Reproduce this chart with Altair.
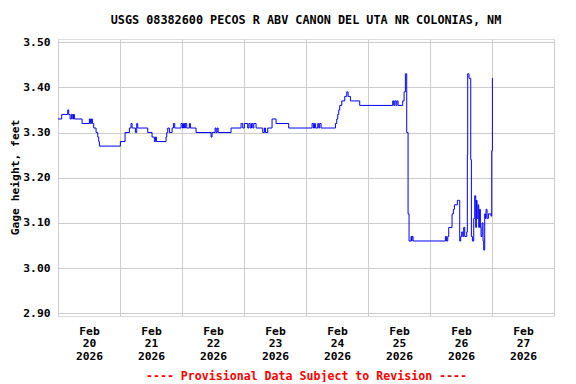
import altair as alt
import pandas as pd

# hours since 2026-02-20 00:00 (local) and gage height, feet (step series)
hours = [
    0.00, 1.44, 3.77, 4.15, 4.67, 5.19, 5.70, 6.00, 6.35, 9.32,
    12.15, 12.54, 12.93, 13.31, 13.83, 14.73, 15.38, 15.77, 16.02, 24.15,
    25.96, 27.64, 28.28, 28.67, 29.96, 30.48, 30.86, 34.73, 36.41, 37.31,
    37.70, 38.09, 41.83, 42.09, 42.48, 43.12, 44.16, 44.67, 45.19, 47.64,
    48.20, 48.60, 49.00, 49.30, 49.83, 50.86, 51.25, 53.44, 59.25, 59.64,
    60.80, 61.20, 61.60, 62.00, 66.99, 70.86, 71.51, 72.15, 73.44, 73.90,
    74.40, 74.90, 75.40, 75.80, 76.67, 79.25, 79.89, 80.30, 81.18, 82.86,
    84.41, 89.31, 98.35, 98.87, 99.26, 99.64, 100.55, 100.93, 101.30, 101.84,
    107.39, 107.90, 108.29, 108.68, 109.06, 109.84, 111.00, 111.77, 112.29, 113.19,
    116.80, 117.32, 129.57, 129.96, 130.35, 130.86, 131.20, 131.64, 133.44, 133.96,
    134.47, 134.99, 135.51, 135.89, 136.67, 136.90, 137.05, 137.44, 149.96, 150.35,
    150.86, 151.25, 152.54, 153.05, 153.44, 154.08, 154.60, 155.51, 155.89, 156.28,
    156.67, 157.05, 157.44, 158.22, 158.45, 158.60, 159.10, 159.60, 159.77, 160.02,
    160.41, 160.93, 161.31, 161.70, 161.96, 162.22, 162.60, 162.86, 163.12, 163.50,
    163.76, 164.15, 164.54, 164.80, 165.18, 165.44, 165.70, 166.09, 166.60, 167.63,
    167.89, 168.15, 168.40,
]
gage = [
    3.33, 3.34, 3.35, 3.34, 3.33, 3.34, 3.33, 3.34, 3.33, 3.32,
    3.33, 3.32, 3.33, 3.32, 3.31, 3.30, 3.29, 3.28, 3.27, 3.28,
    3.30, 3.31, 3.32, 3.31, 3.30, 3.32, 3.31, 3.30, 3.29, 3.28,
    3.29, 3.28, 3.29, 3.30, 3.31, 3.30, 3.31, 3.32, 3.31, 3.32,
    3.31, 3.32, 3.31, 3.32, 3.31, 3.32, 3.31, 3.30, 3.29, 3.30,
    3.31, 3.30, 3.31, 3.30, 3.31, 3.32, 3.31, 3.32, 3.31, 3.32,
    3.31, 3.32, 3.31, 3.32, 3.31, 3.30, 3.31, 3.30, 3.31, 3.33,
    3.32, 3.31, 3.32, 3.31, 3.32, 3.31, 3.32, 3.31, 3.32, 3.31,
    3.32, 3.33, 3.34, 3.35, 3.36, 3.37, 3.38, 3.39, 3.38, 3.37,
    3.36, 3.36, 3.37, 3.36, 3.37, 3.36, 3.37, 3.36, 3.37, 3.39,
    3.43, 3.30, 3.12, 3.06, 3.07, 3.06, 3.07, 3.06, 3.07, 3.06,
    3.07, 3.09, 3.12, 3.13, 3.14, 3.14, 3.15, 3.06, 3.07, 3.08,
    3.07, 3.09, 3.07, 3.08, 3.25, 3.43, 3.42, 3.42, 3.24, 3.07,
    3.06, 3.11, 3.16, 3.09, 3.15, 3.11, 3.14, 3.09, 3.13, 3.09,
    3.07, 3.10, 3.06, 3.04, 3.12, 3.11, 3.13, 3.11, 3.12, 3.115,
    3.26, 3.42, 3.42,
]

title_text = "USGS 08382600 PECOS R ABV CANON DEL UTA NR COLONIAS, NM"
y_title = "Gage height, feet"
footer = "---- Provisional Data Subject to Revision ----"
y_ticks = [2.90, 3.00, 3.10, 3.20, 3.30, 3.40, 3.50]

base = pd.Timestamp("2026-02-20 00:00")
df = pd.DataFrame({
    "time": [(base + pd.Timedelta(hours=h)).strftime("%Y-%m-%dT%H:%M:%S") for h in hours],
    "gage": gage,
})

x_values = []
for d in range(20, 28):
    x_values.append(alt.DateTime(year=2026, month=2, date=d, hours=0))
    x_values.append(alt.DateTime(year=2026, month=2, date=d, hours=12))
x_values.append(alt.DateTime(year=2026, month=2, date=28, hours=0))

FONT = "DejaVu Sans Mono"

chart = alt.Chart(df).mark_line(
    color="#0000ff", strokeWidth=1, interpolate="step-after", clip=True
).encode(
    x=alt.X(
        "time:T",
        scale=alt.Scale(
            domain=[
                alt.DateTime(year=2026, month=2, date=20, hours=0),
                alt.DateTime(year=2026, month=2, date=28, hours=0),
            ]
        ),
        axis=alt.Axis(
            values=x_values,
            title=footer,
            titleColor="#ff0000",
            titleFont=FONT,
            titleFontSize=11.6,
            titleFontWeight="bold",
            titlePadding=9,
            labelExpr="hours(datum.value) == 12 ? [timeFormat(datum.value, '%b'), timeFormat(datum.value, '%d'), timeFormat(datum.value, '%Y')] : ''",
            labelFont=FONT,
            labelFontSize=11.3,
            labelFontWeight="bold",
            labelColor="#000000",
            labelLineHeight=12.5,
            labelPadding=9,
            labelOverlap=False,
            labelBaseline="top",
            ticks=False,
            domain=False,
            grid=True,
            gridColor="#cccccc",
            gridOpacity={"condition": {"test": "hours(datum.value) == 0", "value": 1}, "value": 0},
        ),
    ),
    y=alt.Y(
        "gage:Q",
        scale=alt.Scale(domain=[2.894, 3.507], nice=False, zero=False),
        axis=alt.Axis(
            values=y_ticks,
            format=".2f",
            title=y_title,
            titleFont=FONT,
            titleFontSize=11.3,
            titleFontWeight="bold",
            titleColor="#000000",
            titleX=-43,
            titleY=138,
            titleBaseline="middle",
            labelFont=FONT,
            labelFontSize=11.3,
            labelFontWeight="bold",
            labelColor="#000000",
            labelPadding=8,
            ticks=False,
            domain=False,
            grid=True,
            gridColor="#cccccc",
        ),
    ),
).properties(
    width=496,
    height=277,
    title=alt.TitleParams(
        text=title_text,
        font=FONT,
        fontSize=11.8,
        fontWeight="bold",
        color="#000000",
        anchor="middle",
        frame="group",
        offset=9,
    ),
    padding={"left": 50, "top": 31, "right": 14, "bottom": 66},
    autosize=alt.AutoSizeParams(type="none"),
).configure_view(
    stroke="#000000", strokeWidth=1
).configure(background="#ffffff")

chart.save("out.html", embed_options={"renderer": "svg", "actions": False})
